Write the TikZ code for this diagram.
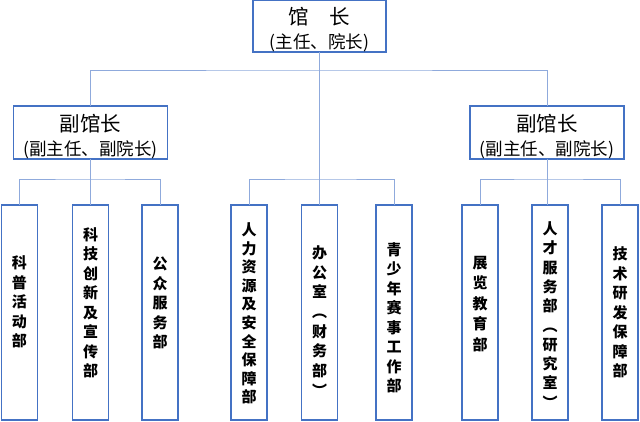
\documentclass[tikz,border=0pt]{standalone}
\usepackage{fontspec}
\setmainfont{Noto Sans CJK SC}
\definecolor{boxblue}{RGB}{68,114,196}
\definecolor{lineblue}{RGB}{143,170,220}
\begin{document}
\begin{tikzpicture}[x=1pt,y=-1pt,
  box/.style={draw=boxblue,line width=1.6pt,fill=white,inner sep=0pt,outer sep=0pt},
  headbox/.style={box,align=center,font=\fontsize{17.5}{24}\selectfont},
  deptbox/.style={box,minimum width=36pt,minimum height=215pt},
  vtext/.style={align=center,inner sep=0pt,font=\bfseries\fontsize{15}{#1}\selectfont},
  vtext/.default=19.5,
  conn/.style={draw=lineblue,line width=1pt}]
\useasboundingbox (0,0) rectangle (640,421);
% head boxes
\node[headbox,minimum width=133pt,minimum height=48pt] (top) at (319.5,26) {{\fontsize{20.5}{24}\selectfont\rule{0pt}{24.5pt}馆　长}\\(主任、院长)};
\node[headbox,minimum width=154pt,minimum height=49pt] (depL) at (90.5,132.5) {{\fontsize{20.5}{25}\selectfont\rule{0pt}{25pt}副馆长}\\(副主任、副院长)};
\node[headbox,minimum width=154pt,minimum height=49pt] (depR) at (547,132.5) {{\fontsize{20.5}{25}\selectfont\rule{0pt}{25pt}副馆长}\\(副主任、副院长)};
% department boxes
\node[deptbox] (b1) at (19.5,312.5) {};
\node[deptbox] (b2) at (90.5,312.5) {};
\node[deptbox] (b3) at (160,312.5) {};
\node[deptbox] (b4) at (249,312.5) {};
\node[deptbox] (b5) at (319.5,312.5) {};
\node[deptbox] (b6) at (394,312.5) {};
\node[deptbox] (b7) at (480,312.5) {};
\node[deptbox] (b8) at (550,312.5) {};
\node[deptbox] (b9) at (620,312.5) {};
% department texts
\node[vtext] (t1) at (19.5,302) {科\\普\\活\\动\\部};
\node[vtext] (t2) at (90.5,303) {科\\技\\创\\新\\及\\宣\\传\\部};
\node[vtext] (t3) at (160,303) {公\\众\\服\\务\\部};
\node[vtext=18.6] (t4) at (249,313.5) {人\\力\\资\\源\\及\\安\\全\\保\\障\\部};
\node[vtext=19.7] (t5) at (319.5,321) {办\\公\\室\\︵\\财\\务\\部\\︶};
\node[vtext] (t6) at (394,318) {青\\少\\年\\赛\\事\\工\\作\\部};
\node[vtext=20.5] (t7) at (480,304) {展\\览\\教\\育\\部};
\node[vtext=19.3] (t8) at (550,315) {人\\才\\服\\务\\部\\︵\\研\\究\\室\\︶};
\node[vtext] (t9) at (620,312.5) {技\\术\\研\\发\\保\\障\\部};
% junctions
\coordinate (j0) at (319.5,70);
\coordinate (jM) at (319.5,179);
\coordinate (jL) at (90.5,179);
\coordinate (jR) at (547,179);
% connectors
\draw[conn] (top.south) -- (j0);
\draw[conn] (depL.north) |- (j0) -| (depR.north);
\draw[conn] (j0) -- (b5.north);
\draw[conn] (b4.north) |- (jM) -| (b6.north);
\draw[conn] (depL.south) -- (b2.north);
\draw[conn] (b1.north) |- (jL) -| (b3.north);
\draw[conn] (depR.south) -- (depR.south |- b8.north);
\draw[conn] (b7.north) |- (jR) -| (b9.north);
\end{tikzpicture}
\end{document}
